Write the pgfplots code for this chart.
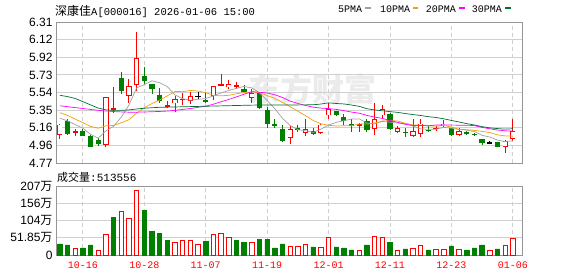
\documentclass[border=0pt]{standalone}
\usepackage{pgfplots}
\pgfplotsset{compat=1.18}
\usepackage{fontspec}
\setmainfont{Liberation Sans}
\newfontfamily\cjk{Noto Sans CJK SC}
\newfontfamily\mono{Liberation Mono}
\definecolor{kred}{RGB}{255,0,0}
\definecolor{kgreen}{RGB}{0,128,0}
\definecolor{ma5}{RGB}{160,160,160}
\definecolor{ma10}{RGB}{240,160,10}
\definecolor{ma20}{RGB}{255,0,255}
\definecolor{ma30}{RGB}{0,110,50}
\definecolor{gridc}{RGB}{208,208,208}
\definecolor{framec}{RGB}{150,150,150}
\pgfplotsset{
 vbar/.style 2 args={draw=none, mark=none, error bars/.cd, y dir=both, y explicit, error mark=none, error bar style={draw=#1, line width=#2}},
 panel/.style={scale only axis, width=466pt, xmin=-0.5, xmax=60.2,
   xtick={3,11,19,27,35,43,51,59}, xmajorgrids, ymajorgrids,
   x grid style={gridc, dash pattern=on 4pt off 3pt, line width=0.8pt},
   y grid style={gridc, line width=0.8pt},
   axis line style={framec, line width=0.8pt},
   major tick length=0pt, tick style={draw=none},
   yticklabel style={font=\fontsize{12}{12}\selectfont}},
}
\begin{document}
\begin{tikzpicture}[x=1pt,y=1pt]
\useasboundingbox (0,0) rectangle (578,276);
% watermark
\node[text=black!8, font=\cjk\bfseries\fontsize{32}{32}\selectfont] at (312,187) {东方财富};
% title
\node[anchor=west, inner sep=0] at (55,265) {{\cjk\fontsize{12}{12}\selectfont 深康佳}{\mono\fontsize{10.5}{10.5}\selectfont A[000016] 2026-01-06 15:00}};
% legend
\node[anchor=west, inner sep=0, font=\mono\fontsize{10}{10}\selectfont] at (338,267.2) {5PMA};
\fill[ma5] (365,266.7) rectangle (371,268.9);
\node[anchor=west, inner sep=0, font=\mono\fontsize{10}{10}\selectfont] at (380,267.2) {10PMA};
\fill[ma10] (412.7,266.7) rectangle (418.3,268.9);
\node[anchor=west, inner sep=0, font=\mono\fontsize{10}{10}\selectfont] at (425.7,267.2) {20PMA};
\fill[ma20] (459.3,266.7) rectangle (465,268.9);
\node[anchor=west, inner sep=0, font=\mono\fontsize{10}{10}\selectfont] at (471.7,267.2) {30PMA};
\fill[ma30] (505,266.7) rectangle (510.7,268.9);
% volume caption
\node[anchor=west, inner sep=0] at (57,99) {{\cjk\fontsize{11}{11}\selectfont 成交量}{\mono\fontsize{11}{11}\selectfont :513556}};

\begin{axis}[panel, at={(56pt,113pt)}, anchor=south west, height=141pt,
  ymin=4.77, ymax=6.31, xticklabels={},
  ytick={4.77,4.9625,5.155,5.3475,5.54,5.7325,5.925,6.1175,6.31},
  yticklabels={4.77,4.96,5.16,5.35,5.54,5.73,5.92,6.12,6.31}]
% ---- red (up) candles: wicks (low-high), bodies (open-close), hollow interior
\addplot[vbar={kred}{0.9pt}] coordinates {
(0,5.115)+-(0,0.085) (2,5.105)+-(0,0.035) (6,5.22)+-(0,0.27) (7,5.46)+-(0,0.14)
(9,5.56)+-(0,0.13) (10,5.88)+-(0,0.32) (14,5.41)+-(0,0.04) (15,5.415)+-(0,0.085)
(16,5.465)+-(0,0.065) (17,5.475)+-(0,0.065) (20,5.535)+-(0,0.075) (21,5.68)+-(0,0.06)
(22,5.63)+-(0,0.05) (23,5.62)+-(0,0.04) (25,5.50)+-(0,0.08) (30,5.075)+-(0,0.095)
(32,5.16)+-(0,0.09) (34,5.145)+-(0,0.055) (35,5.34)+-(0,0.09) (39,5.16)+-(0,0.05)
(41,5.25)+-(0,0.17) (42,5.325)+-(0,0.075) (44,5.135)+-(0,0.035) (46,5.15)+-(0,0.10)
(47,5.15)+-(0,0.10) (49,5.145)+-(0,0.025) (50,5.195)+-(0,0.045) (52,5.1075)+-(0,0.0425)
(58,4.95)+-(0,0.07) (59,5.13)+-(0,0.12)};
\addplot[vbar={kred}{5.2pt}] coordinates {
(0,5.135)+-(0,0.055) (2,5.11)+-(0,0.01) (6,5.23)+-(0,0.26) (7,5.365)+-(0,0.005)
(9,5.555)+-(0,0.055) (10,5.77)+-(0,0.15) (14,5.395)+-(0,0.005) (15,5.445)+-(0,0.025)
(16,5.465)+-(0,0.005) (17,5.475)+-(0,0.025) (20,5.555)+-(0,0.055) (21,5.625)+-(0,0.005)
(22,5.615)+-(0,0.015) (23,5.615)+-(0,0.005) (25,5.505)+-(0,0.025) (30,5.09)+-(0,0.05)
(32,5.12)+-(0,0.02) (34,5.145)+-(0,0.045) (35,5.325)+-(0,0.035) (39,5.19)+-(0,0.01)
(41,5.195)+-(0,0.055) (42,5.325)+-(0,0.035) (44,5.13)+-(0,0.02) (46,5.095)+-(0,0.025)
(47,5.145)+-(0,0.055) (49,5.15)+-(0,0.005) (50,5.185)+-(0,0.015) (52,5.10)+-(0,0.02)
(58,4.98)+-(0,0.03) (59,5.075)+-(0,0.045)};
\addplot[vbar={white}{3.6pt}] coordinates {
(0,5.135)+-(0,0.0463) (6,5.23)+-(0,0.2513) (9,5.555)+-(0,0.0463) (10,5.77)+-(0,0.1413)
(15,5.445)+-(0,0.0163) (17,5.475)+-(0,0.0163) (20,5.555)+-(0,0.0463) (22,5.615)+-(0,0.0063)
(25,5.505)+-(0,0.0163) (30,5.09)+-(0,0.0413) (32,5.12)+-(0,0.0113) (34,5.145)+-(0,0.0363)
(35,5.325)+-(0,0.0263) (41,5.195)+-(0,0.0463) (42,5.325)+-(0,0.0263) (44,5.13)+-(0,0.0113)
(46,5.095)+-(0,0.0163) (47,5.145)+-(0,0.0463) (50,5.185)+-(0,0.0063) (52,5.10)+-(0,0.0113)
(58,4.98)+-(0,0.0213) (59,5.075)+-(0,0.0363)};
% ---- green (down) candles
\addplot[vbar={kgreen}{0.9pt}] coordinates {
(1,5.165)+-(0,0.085) (3,5.10)+-(0,0.04) (4,5.01)+-(0,0.07) (5,5.00)+-(0,0.04)
(8,5.64)+-(0,0.12) (11,5.725)+-(0,0.095) (12,5.575)+-(0,0.055) (13,5.505)+-(0,0.085)
(19,5.485)+-(0,0.055) (24,5.575)+-(0,0.045) (26,5.45)+-(0,0.09) (27,5.2675)+-(0,0.1175)
(28,5.20)+-(0,0.05) (29,5.095)+-(0,0.095) (31,5.1475)+-(0,0.0375) (33,5.1175)+-(0,0.0375)
(36,5.31)+-(0,0.03) (37,5.245)+-(0,0.055) (38,5.18)+-(0,0.07) (40,5.18)+-(0,0.07)
(43,5.225)+-(0,0.095) (45,5.10)+-(0,0.05) (48,5.14)+-(0,0.03) (51,5.105)+-(0,0.045)
(53,5.10)+-(0,0.02) (54,5.08)+-(0,0.02) (55,5.00)+-(0,0.03) (57,4.975)+-(0,0.025)};
\addplot[vbar={kgreen}{5.2pt}] coordinates {
(1,5.16)+-(0,0.07) (3,5.0925)+-(0,0.0275) (4,5.005)+-(0,0.055) (5,5.00)+-(0,0.02)
(8,5.63)+-(0,0.07) (11,5.695)+-(0,0.025) (12,5.605)+-(0,0.025) (13,5.48)+-(0,0.03)
(19,5.45)+-(0,0.01) (24,5.56)+-(0,0.02) (26,5.45)+-(0,0.08) (27,5.275)+-(0,0.075)
(28,5.19)+-(0,0.01) (29,5.075)+-(0,0.065) (31,5.145)+-(0,0.005) (33,5.105)+-(0,0.015)
(36,5.315)+-(0,0.025) (37,5.25)+-(0,0.02) (38,5.19)+-(0,0.01) (40,5.18)+-(0,0.05)
(43,5.22)+-(0,0.08) (45,5.105)+-(0,0.005) (48,5.125)+-(0,0.005) (51,5.115)+-(0,0.035)
(53,5.10)+-(0,0.01) (54,5.085)+-(0,0.005) (55,5.01)+-(0,0.02) (57,4.975)+-(0,0.025)};
% ---- flat (open = close) candles
\addplot[vbar={black}{0.9pt}] coordinates {(18,5.505)+-(0,0.035) (56,5.00)+-(0,0.01)};
\addplot[vbar={black}{5.2pt}] coordinates {(18,5.50)+-(0,0.004) (56,4.99)+-(0,0.004)};
% moving averages
\addplot[ma5, line width=0.7pt] coordinates {(0,5.26)(1,5.23)(2,5.19)(3,5.15)(4,5.083)(5,5.041)(6,5.121)(7,5.171)(8,5.27)(9,5.402)(10,5.59)(11,5.626)(12,5.668)(13,5.646)(14,5.604)(15,5.514)(16,5.472)(17,5.456)(18,5.466)(19,5.474)(20,5.502)(21,5.536)(22,5.562)(23,5.586)(24,5.606)(25,5.59)(26,5.538)(27,5.452)(28,5.364)(29,5.258)(30,5.18)(31,5.134)(32,5.122)(33,5.104)(34,5.14)(35,5.184)(36,5.214)(37,5.232)(38,5.25)(39,5.252)(40,5.206)(41,5.198)(42,5.224)(43,5.216)(44,5.206)(45,5.2)(46,5.174)(47,5.142)(48,5.138)(49,5.139)(50,5.159)(51,5.151)(52,5.135)(53,5.129)(54,5.114)(55,5.072)(56,5.054)(57,5.02)(58,5.004)(59,5.012)};
\addplot[ma10, line width=0.7pt] coordinates {(0,5.32)(1,5.29)(2,5.25)(3,5.21)(4,5.17)(5,5.15)(6,5.176)(7,5.18)(8,5.21)(9,5.2425)(10,5.3155)(11,5.3735)(12,5.4195)(13,5.458)(14,5.503)(15,5.552)(16,5.549)(17,5.562)(18,5.556)(19,5.539)(20,5.508)(21,5.504)(22,5.509)(23,5.526)(24,5.54)(25,5.546)(26,5.537)(27,5.507)(28,5.475)(29,5.432)(30,5.385)(31,5.336)(32,5.287)(33,5.234)(34,5.199)(35,5.182)(36,5.174)(37,5.177)(38,5.177)(39,5.196)(40,5.195)(41,5.206)(42,5.228)(43,5.233)(44,5.229)(45,5.203)(46,5.186)(47,5.183)(48,5.177)(49,5.1725)(50,5.1795)(51,5.1625)(52,5.1385)(53,5.1335)(54,5.1265)(55,5.1155)(56,5.1025)(57,5.0775)(58,5.0665)(59,5.063)};
\addplot[ma20, line width=0.7pt] coordinates {(0,5.395)(1,5.385)(2,5.375)(3,5.365)(4,5.355)(5,5.345)(6,5.338)(7,5.332)(8,5.328)(9,5.325)(10,5.325)(11,5.327)(12,5.33)(13,5.333)(14,5.337)(15,5.345)(16,5.355)(17,5.365)(18,5.378)(19,5.391)(20,5.412)(21,5.439)(22,5.464)(23,5.492)(24,5.5215)(25,5.549)(26,5.543)(27,5.5345)(28,5.5155)(29,5.4855)(30,5.4465)(31,5.42)(32,5.398)(33,5.38)(34,5.3695)(35,5.364)(36,5.3555)(37,5.342)(38,5.326)(39,5.314)(40,5.29)(41,5.271)(42,5.2575)(43,5.2335)(44,5.214)(45,5.1925)(46,5.18)(47,5.18)(48,5.177)(49,5.184)(50,5.187)(51,5.184)(52,5.183)(53,5.183)(54,5.178)(55,5.159)(56,5.144)(57,5.13)(58,5.122)(59,5.118)};
\addplot[ma30, line width=0.7pt] coordinates {(0,5.51)(1,5.495)(2,5.475)(3,5.44)(4,5.405)(5,5.37)(6,5.35)(7,5.345)(8,5.345)(9,5.35)(10,5.36)(11,5.368)(12,5.374)(13,5.378)(14,5.38)(15,5.382)(16,5.384)(17,5.386)(18,5.388)(19,5.39)(20,5.392)(21,5.394)(22,5.396)(23,5.398)(24,5.4)(25,5.402)(26,5.403)(27,5.404)(28,5.404)(29,5.4045)(30,5.403)(31,5.4045)(32,5.405)(33,5.406)(34,5.414)(35,5.427)(36,5.42)(37,5.415)(38,5.403)(39,5.389)(40,5.363)(41,5.349)(42,5.341)(43,5.331)(44,5.323)(45,5.31)(46,5.299)(47,5.289)(48,5.276)(49,5.267)(50,5.253)(51,5.235)(52,5.218)(53,5.2)(54,5.185)(55,5.167)(56,5.154)(57,5.146)(58,5.14)(59,5.144)};
\end{axis}

\begin{axis}[panel, at={(56pt,21pt)}, anchor=south west, height=69pt,
  ymin=0, ymax=207.4,
  xticklabels={10-16,10-28,11-07,11-19,12-01,12-11,12-23,01-06},
  xticklabel style={font=\mono\fontsize{10}{10}\selectfont, text=kred, yshift=-3pt},
  ytick={0,51.85,103.7,155.55,207.4},
  yticklabels={0,51.85{\cjk 万},104{\cjk 万},156{\cjk 万},207{\cjk 万}}]
\addplot[ybar, bar width=4.4pt, bar shift=0pt, draw=kred, fill=white, line width=0.8pt] coordinates {(2,20.2)(5,14.1)(6,62.6)(8,132)(9,109)(10,193)(15,38.4)(16,44.4)(17,44.4)(18,32.3)(20,62.6)(21,65.7)(22,53.5)(25,38.4)(30,26.3)(31,27.3)(32,32.3)(34,23.2)(35,53.5)(39,14.1)(41,56.6)(42,53.5)(44,14.1)(46,20.2)(47,29.3)(49,17.2)(50,17.2)(52,17.2)(56,14.1)(58,29.3)(59,51.36)};
\addplot[ybar, bar width=4.4pt, bar shift=0pt, draw=kgreen, fill=kgreen, line width=0.8pt] coordinates {(0,33.3)(1,30.3)(3,21.2)(4,30.3)(7,112)(11,133)(12,69.7)(13,63.6)(14,42.4)(19,39.4)(23,42.4)(24,36.4)(26,45.5)(27,45.5)(28,21.2)(29,33.3)(33,24.2)(36,24.2)(37,21.2)(38,15.2)(40,30.3)(43,36.4)(45,18.2)(48,15.2)(51,27.3)(53,15.2)(54,21.2)(55,30.3)(57,18.2)};
\end{axis}
\end{tikzpicture}
\end{document}
